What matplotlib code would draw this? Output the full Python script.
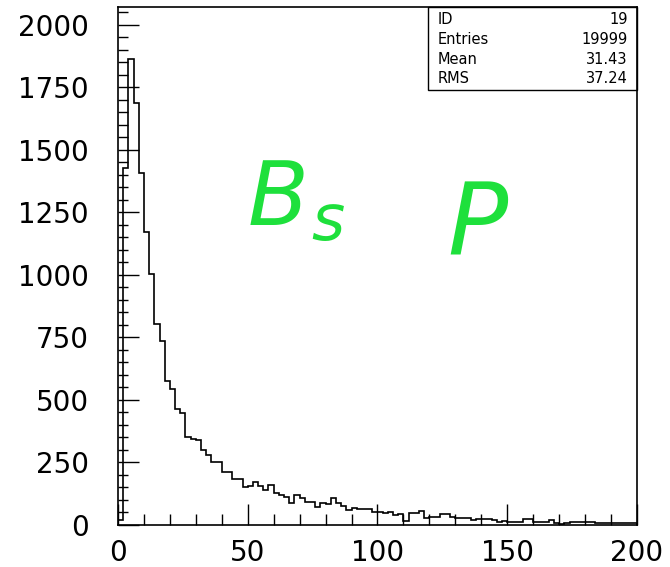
#!/usr/bin/env python

import numpy as np
import matplotlib
matplotlib.use("Agg")
import matplotlib.pyplot as plt
from matplotlib.patches import Rectangle

# some global matplotlib settings
plt.rcParams['font.family'] = 'DejaVu Sans'
plt.rcParams['xtick.labelsize'] = 20
plt.rcParams['ytick.labelsize'] = 20

# histogram contents, 100 bins of width 2 from 0 to 200
binEdges = np.arange(0, 202, 2)
counts = [
    20, 1428, 1864, 1688, 1409, 1173, 1004, 803, 736, 577,
    544, 464, 449, 353, 343, 340, 300, 280, 253, 253,
    213, 213, 183, 183, 151, 156, 173, 156, 140, 160,
    127, 120, 111, 89, 120, 107, 93, 93, 73, 89,
    83, 107, 89, 76, 60, 69, 63, 63, 63, 52,
    50, 47, 53, 40, 45, 15, 47, 47, 57, 27,
    33, 33, 44, 44, 33, 27, 27, 27, 20, 22,
    25, 22, 20, 13, 15, 12, 13, 13, 23, 23,
    13, 13, 13, 20, 7, 2, 9, 13, 13, 13,
    13, 13, 9, 9, 9, 7, 7, 7, 7, 7,
]

xTicks = [0, 50, 100, 150, 200]
yTicks = [0, 250, 500, 750, 1000, 1250, 1500, 1750, 2000]

# stats box entries
statNames = ["ID", "Entries", "Mean", "RMS"]
statValues = ["19", "19999", "31.43", "37.24"]

fig = plt.figure(figsize=(6.70, 5.67), dpi=100)
ax = fig.add_axes([0.1761, 0.0741, 0.7746, 0.9136])

ax.stairs(counts, binEdges, color='black', lw=1.2)

ax.set_xlim(0, 200)
ax.set_ylim(0, 2072)
ax.set_xticks(xTicks)
ax.set_yticks(yTicks)
ax.set_xticks(np.arange(0, 201, 10), minor=True)
ax.set_yticks(np.arange(0, 2051, 50), minor=True)

ax.tick_params(which='both', direction='in', top=False, right=False, width=1.0, color='black')
ax.tick_params(axis='x', which='major', length=15, pad=10)
ax.tick_params(axis='x', which='minor', length=8)
ax.tick_params(axis='y', which='major', length=15, pad=21)
ax.tick_params(axis='y', which='minor', length=7.5)

for s in ax.spines.values():
    s.set_linewidth(1.2)

# stats box in the top right corner
ax.add_patch(Rectangle((0.597, 0.8398), 0.403, 0.1602, transform=ax.transAxes,
                       fill=False, ec='black', lw=1.0, clip_on=False))
rowY = [0.99, 0.952, 0.913, 0.876]
for (n, v, y) in zip(statNames, statValues, rowY):
    ax.text(0.616, y, n, transform=ax.transAxes, fontsize=10.5, va='top', ha='left')
    ax.text(0.982, y, v, transform=ax.transAxes, fontsize=10.5, va='top', ha='right')

# handwritten green notes
green = '#1ee03c'
ax.text(50, 1200, "B", color=green, fontsize=64, style='italic', ha='left', va='baseline')
ax.text(74.5, 1140, "s", color=green, fontsize=46, style='italic', ha='left', va='baseline')
ax.text(127, 1080, "P", color=green, fontsize=72, style='italic', ha='left', va='baseline')

fig.savefig("out.png", dpi=100)
